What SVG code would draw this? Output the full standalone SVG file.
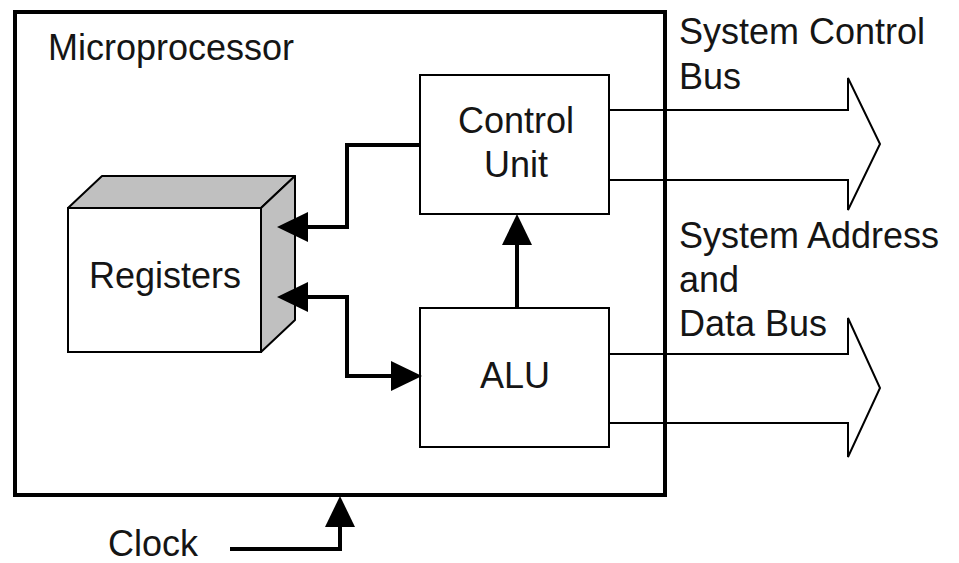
<svg xmlns="http://www.w3.org/2000/svg" width="959" height="563" viewBox="0 0 959 563">
<style>
  text { font-family: "Liberation Sans", Arial, sans-serif; font-size: 36px; fill: #151515; }
  .box { fill: #fff; stroke: #000; stroke-width: 2; }
  .face { fill: #c0c0c0; stroke: #000; stroke-width: 2; stroke-linejoin: round; }
  .wire { fill: none; stroke: #000; stroke-width: 4; }
  .bus { fill: none; stroke: #000; stroke-width: 2; stroke-linejoin: miter; }
</style>
<defs>
  <marker id="head" markerUnits="userSpaceOnUse" markerWidth="31" markerHeight="30" refX="0" refY="15" orient="auto-start-reverse" viewBox="0 0 31 30">
    <path d="M0,0 L31,15 L0,30 Z" fill="#000"/>
  </marker>
</defs>
<rect width="959" height="563" fill="#fff"/>

<g id="microprocessor">
  <rect x="15" y="12" width="650" height="483" fill="none" stroke="#000" stroke-width="4"/>
  <text x="48" y="60">Microprocessor</text>
</g>

<g id="registers">
  <polygon class="face" points="68,208 102,176 295,176 261,208"/>
  <polygon class="face" points="261,208 295,176 295,320 261,352"/>
  <rect class="box" x="68" y="208" width="193" height="144"/>
  <text x="165" y="288" text-anchor="middle">Registers</text>
</g>

<g id="control-unit">
  <rect class="box" x="420" y="75" width="189" height="139"/>
  <text x="516" y="133" text-anchor="middle">Control</text>
  <text x="516" y="177" text-anchor="middle">Unit</text>
</g>

<g id="alu">
  <rect class="box" x="420" y="308" width="189" height="139"/>
  <text x="515" y="388" text-anchor="middle">ALU</text>
</g>

<g id="system-control-bus">
  <path class="bus" d="M609,110 H848 V78 L880,144 L848,210 V180 H609"/>
  <text x="679" y="44">System Control</text>
  <text x="679" y="89">Bus</text>
</g>

<g id="system-address-data-bus">
  <path class="bus" d="M609,354 H848 V318 L880,388 L848,457 V423 H609"/>
  <text x="679" y="248">System Address</text>
  <text x="679" y="292">and</text>
  <text x="679" y="336">Data Bus</text>
</g>

<g id="clock">
  <text x="108" y="556">Clock</text>
</g>

<g id="connectors">
  <path class="wire" d="M420,145 H347 V227 H308" marker-end="url(#head)"/>
  <path class="wire" d="M308,297 H347 V376 H391" marker-start="url(#head)" marker-end="url(#head)"/>
  <path class="wire" d="M517,308 V245" marker-end="url(#head)"/>
  <path class="wire" d="M230,549 H340 V527" marker-end="url(#head)"/>
</g>
</svg>
